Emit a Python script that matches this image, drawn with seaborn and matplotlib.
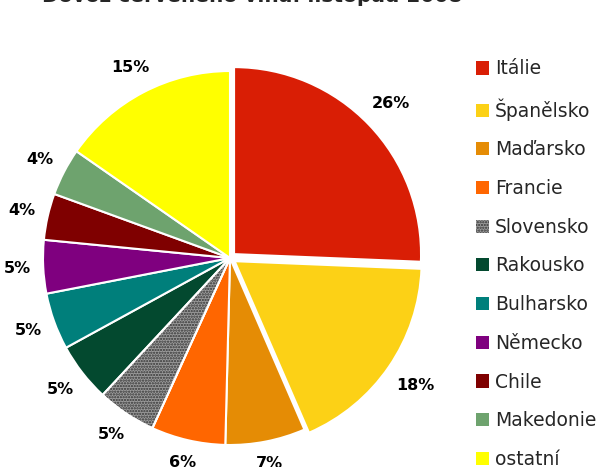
import matplotlib
matplotlib.use("Agg")
import numpy as np
import matplotlib.pyplot as plt
from matplotlib.patches import Wedge, Rectangle
import seaborn as sns

# Import of red wine by country, share of volume (%)
countries = ["Itálie", "Španělsko", "Maďarsko", "Francie", "Slovensko", "Rakousko",
             "Bulharsko", "Německo", "Chile", "Makedonie", "ostatní"]
shares = [25.6, 17.8, 6.9, 6.4, 5.1, 5.1, 4.9, 4.6, 4.0, 4.1, 15.3]
colors = ["#d91e05", "#fcd116", "#e58c05", "#ff6600", "#9c9c9c", "#03492f",
          "#007f7b", "#7f007f", "#7f0000", "#6ea36e", "#ffff00"]
explode = [0.03, 0.03, 0, 0, 0, 0, 0, 0, 0, 0, 0]
dotted = "Slovensko"

sns.set_theme(style="white")
plt.rcParams['font.family'] = ['DejaVu Sans']
plt.rcParams['hatch.linewidth'] = 1.1

fig = plt.figure(figsize=(6.04, 4.67), dpi=100)
W, H = 604, 467
cx, cy, r = 230, 467 - 258, 187
lim = 1.3
half = lim * r
ax = fig.add_axes([(cx - half) / W, (cy - half) / H, 2 * half / W, 2 * half / H])

wedges, texts, autotexts = ax.pie(
    shares, colors=colors, explode=explode, startangle=90, counterclock=False,
    autopct="%.0f%%", pctdistance=1.15,
    wedgeprops=dict(edgecolor="white", linewidth=1.5),
    textprops=dict(fontsize=11.5, fontweight="bold", color="black"))
ax.set_xlim(-lim, lim)
ax.set_ylim(-lim, lim)
ax.set_aspect("equal")
ax.axis("off")

# dotted pattern on Slovensko: dark dots over grey, then white border again
w = wedges[countries.index(dotted)]
ax.add_patch(Wedge(w.center, w.r, w.theta1, w.theta2, facecolor="none",
                   edgecolor="#333333", linewidth=0, hatch="......"))
ax.add_patch(Wedge(w.center, w.r, w.theta1, w.theta2, facecolor="none",
                   edgecolor="white", linewidth=1.5))

# place percentage labels just outside the rim, like Excel does
fig.canvas.draw()
gap = 12
for w, t in zip(wedges, autotexts):
    ang = np.deg2rad((w.theta1 + w.theta2) / 2)
    bb = t.get_window_extent()
    hw, hh = bb.width / 2, bb.height / 2
    d = 1 + (gap + abs(np.cos(ang)) * hw + abs(np.sin(ang)) * hh) / r
    x0, y0 = w.center
    t.set_position((x0 + d * np.cos(ang), y0 + d * np.sin(ang)))
    t.set_ha("center")
    t.set_va("center")

handles = []
for name, c in zip(countries, colors):
    if name == dotted:
        handles.append(Rectangle((0, 0), 1, 1, facecolor=c, edgecolor="#333333",
                                 linewidth=0, hatch="......"))
    else:
        handles.append(Rectangle((0, 0), 1, 1, facecolor=c, linewidth=0))

fig.legend(handles, countries, loc="upper left", bbox_to_anchor=(468 / W, 1 - 52 / H),
           frameon=False, fontsize=13.5, handlelength=0.7, handleheight=0.7,
           handletextpad=0.35, labelspacing=1.05, borderaxespad=0)

fig.text(252 / W, 1 - 2 / H, "Dovoz červeného vína: listopad 2008", ha="center",
         va="baseline", fontsize=14.5, fontweight="bold")

fig.savefig("out.png", dpi=100)
